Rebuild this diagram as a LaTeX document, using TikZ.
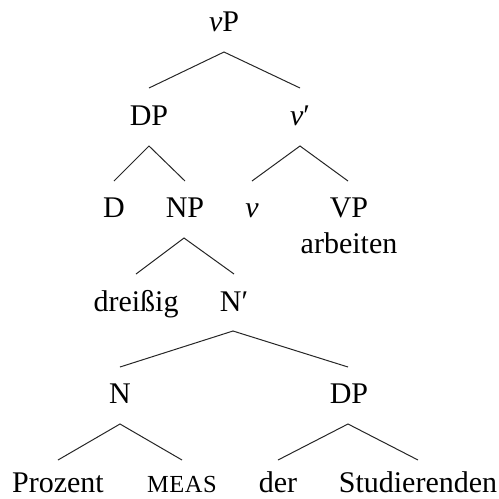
\documentclass[tikz,border=0pt]{standalone}
\usepackage{fontspec}
\setmainfont{Liberation Serif}
\begin{document}
\begin{tikzpicture}[x=1pt,y=-1pt,
  lbl/.style={anchor=base,inner sep=0pt,font=\fontsize{30}{36}\selectfont},
  bottomlbl/.style={lbl,text depth=0pt},
  edge/.style={line width=1pt,draw=black!85}]
\useasboundingbox (0,0) rectangle (499,499);
% labels
\node[lbl] (vP) at (224,31) {\textit{v}P};
\node[lbl] (DP1) at (149,125) {DP};
\node[lbl] (vbar) at (300,125) {\textit{v}′};
\node[lbl] (D) at (114,217) {D};
\node[lbl] (NP) at (185,217) {NP};
\node[lbl] (v) at (252,217) {\textit{v}};
\node[lbl] (VP) at (349,217) {VP};
\node[lbl] (arb) at (349,253) {arbeiten};
\node[lbl] (drei) at (136,311) {dreißig};
\node[lbl] (Nbar) at (234,311) {N′};
\node[lbl] (N) at (120,403) {N};
\node[lbl] (DP2) at (349,403) {DP};
\node[bottomlbl] (Proz) at (58,492) {Prozent};
\node[bottomlbl] (meas) at (182,492) {\fontsize{24.5}{28}\selectfont M\kern0.5pt E\kern0.5pt A\kern0.5pt S};
\node[bottomlbl] (der) at (278,492) {der};
\node[bottomlbl] (Stud) at (418,492) {Studierenden};
% connector end points
\coordinate (vP-b) at (224,52);
\coordinate (DP1-t) at (149,88);
\coordinate (vbar-t) at (300,88);
\coordinate (DP1-b) at (149,146);
\coordinate (vbar-b) at (300,146);
\coordinate (D-t) at (114,181);
\coordinate (NP-t) at (185,181);
\coordinate (v-t) at (252,181);
\coordinate (VP-t) at (348,181);
\coordinate (NP-b) at (184,238);
\coordinate (drei-t) at (136,274);
\coordinate (Nbar-t) at (234,274);
\coordinate (Nbar-b) at (233,331);
\coordinate (N-t) at (120,367);
\coordinate (DP2-t) at (348,367);
\coordinate (N-b) at (120,424);
\coordinate (DP2-b) at (348,424);
\coordinate (Proz-t) at (58,460);
\coordinate (meas-t) at (182,460);
\coordinate (der-t) at (278,460);
\coordinate (Stud-t) at (418,460);
% connectors
\draw[edge] (DP1-t) -- (vP-b) -- (vbar-t);
\draw[edge] (D-t) -- (DP1-b) -- (NP-t);
\draw[edge] (v-t) -- (vbar-b) -- (VP-t);
\draw[edge] (drei-t) -- (NP-b) -- (Nbar-t);
\draw[edge] (N-t) -- (Nbar-b) -- (DP2-t);
\draw[edge] (Proz-t) -- (N-b) -- (meas-t);
\draw[edge] (der-t) -- (DP2-b) -- (Stud-t);
\end{tikzpicture}
\end{document}
